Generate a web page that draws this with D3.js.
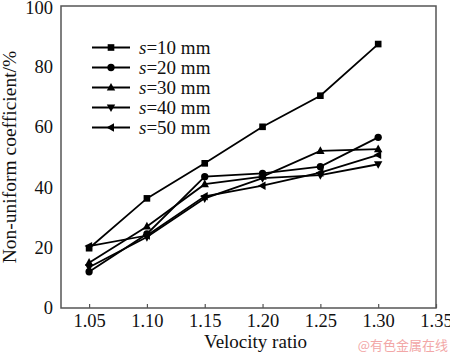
<!DOCTYPE html>
<html><head><meta charset="utf-8">
<script src="https://cdn.jsdelivr.net/npm/d3@7"></script>
<style>body{margin:0;background:#fff}svg{display:block}</style>
</head><body>
<script>
const xValues = [1.05, 1.10, 1.15, 1.20, 1.25, 1.30];
const s10 = [19.8, 36.3, 47.9, 60.0, 70.3, 87.4];
const s20 = [12.0, 24.5, 43.5, 44.6, 46.8, 56.5];
const s30 = [15.0, 27.0, 41.0, 43.5, 52.0, 52.6];
const s40 = [13.5, 23.5, 36.3, 43.0, 44.0, 47.6];
const s50 = [20.5, 24.0, 37.0, 40.5, 44.8, 50.7];
const seriesNames = ["10", "20", "30", "40", "50"];
const xTicks = [1.05, 1.10, 1.15, 1.20, 1.25, 1.30, 1.35];
const yTicks = [0, 20, 40, 60, 80, 100];

const W = 450, H = 354;
const m = {l: 61, r: 14, t: 6, b: 46};
const svg = d3.select("body").append("svg").attr("width", W).attr("height", H);
const x = d3.scaleLinear().domain([1.0257, 1.35]).range([m.l, W - m.r]);
const y = d3.scaleLinear().domain([0, 100]).range([H - m.b, m.t]);
const font = "'Liberation Serif','Times New Roman',serif";

const series = [s10, s20, s30, s40, s50];
const shapes = [d3.symbolSquare, d3.symbolCircle, "up", "down", "left"];
function markerPath(k) {
  const sh = shapes[k];
  if (sh === "up") return "M0,-4.6L4.2,3L-4.2,3Z";
  if (sh === "down") return "M0,4.6L4.2,-3L-4.2,-3Z";
  if (sh === "left") return "M-4.6,0L3,-4.2L3,4.2Z";
  return d3.symbol().type(sh).size(sh === d3.symbolSquare ? 44 : 42)();
}

const line = d3.line().x((d, i) => x(xValues[i])).y(d => y(d));
series.forEach((vals, k) => {
  svg.append("path").attr("d", line(vals)).attr("fill", "none")
    .attr("stroke", "#000").attr("stroke-width", 1.8);
  svg.selectAll(null).data(vals).enter().append("path")
    .attr("d", markerPath(k))
    .attr("transform", (d, i) => `translate(${x(xValues[i])},${y(d)})`)
    .attr("fill", "#000");
});

// frame
svg.append("rect").attr("x", m.l).attr("y", m.t)
  .attr("width", W - m.r - m.l).attr("height", H - m.b - m.t)
  .attr("fill", "none").attr("stroke", "#555").attr("stroke-width", 1.5);

// x axis
const xAxis = svg.append("g").attr("transform", `translate(0,${H - m.b})`)
  .call(d3.axisBottom(x).tickValues(xTicks).tickFormat(d3.format(".2f")).tickSizeInner(-4).tickSizeOuter(0).tickPadding(6));
xAxis.select(".domain").remove();
xAxis.selectAll("line").attr("stroke", "#555").attr("stroke-width", 1.2);
xAxis.selectAll("text").attr("font-family", font).attr("font-size", 18.5).attr("fill", "#111");

// y axis
const yAxis = svg.append("g").attr("transform", `translate(${m.l},0)`)
  .call(d3.axisLeft(y).tickValues(yTicks).tickSize(0).tickPadding(8));
yAxis.select(".domain").remove();
yAxis.selectAll("text").attr("font-family", font).attr("font-size", 18.5).attr("fill", "#111");
yAxis.selectAll(".tick").filter(d => d === 100).select("text").attr("dy", "0.42em");

// titles
svg.append("text").attr("x", (m.l + W - m.r) / 2 + 7).attr("y", 348)
  .attr("text-anchor", "middle").attr("font-family", font).attr("font-size", 19)
  .attr("fill", "#111").text("Velocity ratio");
svg.append("text").attr("transform", "translate(16,157) rotate(-90)")
  .attr("text-anchor", "middle").attr("font-family", font).attr("font-size", 19.5)
  .attr("fill", "#111").text("Non-uniform coefficient/%");

// legend
const legY = [47.5, 67.5, 87.5, 107.5, 127.5];
seriesNames.forEach((nm, k) => {
  const g = svg.append("g").attr("transform", `translate(0,${legY[k]})`);
  g.append("line").attr("x1", 92).attr("x2", 130).attr("y1", 0).attr("y2", 0)
    .attr("stroke", "#000").attr("stroke-width", 1.8);
  g.append("path").attr("d", markerPath(k)).attr("transform", "translate(111,0)").attr("fill", "#000");
  const t = g.append("text").attr("x", 139).attr("y", 6.5)
    .attr("font-family", font).attr("font-size", 19).attr("fill", "#111");
  t.append("tspan").attr("font-style", "italic").text("s");
  t.append("tspan").text("=" + nm + " mm");
});

// watermark
svg.append("text").attr("x", 448).attr("y", 350).attr("text-anchor", "end")
  .attr("font-family", "'Noto Sans CJK SC',sans-serif").attr("font-size", 13)
  .attr("fill", "#f2a7a7").text("@有色金属在线");
</script>
</body></html>
